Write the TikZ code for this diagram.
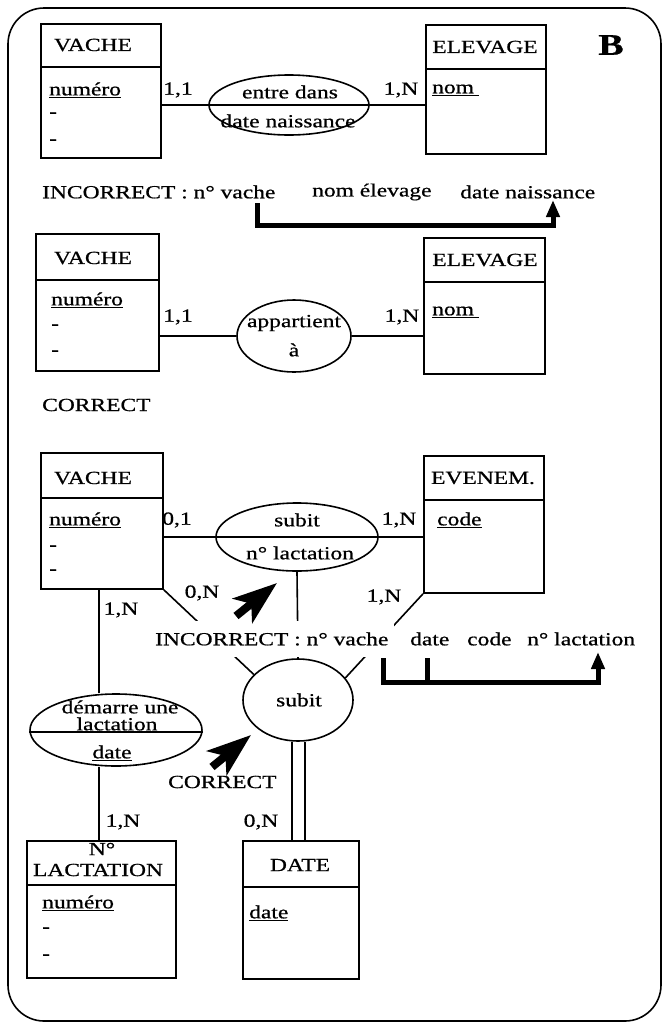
\documentclass[tikz,border=0pt]{standalone}
\usepackage{fontspec}
\setmainfont{Liberation Serif}[FakeStretch=1.27,FakeBold=0.7]
\usetikzlibrary{shapes.geometric,arrows.meta}

\begin{document}
\begin{tikzpicture}[x=1pt,y=-1pt,
    ent/.style={draw,line width=1.8pt,inner sep=0pt,anchor=north west},
    rel/.style={draw,ellipse,line width=1.6pt,inner sep=0pt},
    conn/.style={line width=1.6pt},
    txt/.style={inner sep=0pt,font=\fontsize{18.5}{19}\selectfont},
    mask/.style={txt,fill=white,inner xsep=6pt,inner ysep=11pt,anchor=west},
    fat/.style={line width=5pt,-{Triangle[width=13pt,length=17pt]}},
    pointer/.style={line width=8pt,-{Stealth[length=44pt,width=31pt,inset=11pt]}}]
  \useasboundingbox (0,0) rectangle (665,1028);
  \draw[line width=1.6pt,rounded corners=36pt] (8,8) rectangle (661,1021); %cadre

  % --- 1 : entre dans (incorrect)
  \node[ent,minimum width=120pt,minimum height=134pt] (v1) at (40,23) {};
  \node[ent,minimum width=120pt,minimum height=129pt] (e1) at (425,24) {};
  \node[rel,minimum width=160pt,minimum height=60pt] (r1) at (289,105) {};
  \draw[conn] ([yshift=-44pt]v1.north west) -- ([yshift=-44pt]v1.north east);
  \draw[conn] ([yshift=-45pt]e1.north west) -- ([yshift=-45pt]e1.north east);
  \draw[conn] (v1.east |- r1) -- (e1.west |- r1); %traverse l'ellipse
  \node[txt] (v1t) at (93,45) {VACHE};
  \node[txt,anchor=west] (v1a) at (49,90) {\underline{numéro}};
  \node[txt,anchor=west] (v1b) at (49,115) {-};
  \node[txt,anchor=west] (v1c) at (49,142) {-};
  \node[txt] (e1t) at (485,47) {ELEVAGE};
  \node[txt,anchor=west] (e1a) at (432,90) {\underline{nom\hspace{5pt}}};
  \node[txt] (r1a) at (290,92) {entre dans};
  \node[txt] (r1b) at (288,121) {date naissance};
  \node[txt] (c1) at (178,90) {1,1};
  \node[txt] (c2) at (401,90) {1,N};
  \node[inner sep=0pt,font=\fontsize{30}{30}\selectfont\bfseries] (lb) at (611,45) {B};
  \node[txt,anchor=west] (i1a) at (42,192) {INCORRECT : n° vache};
  \node[txt,anchor=west] (i1b) at (312,192) {nom élevage};
  \node[txt,anchor=west] (i1c) at (460,192) {date naissance};
  \coordinate (t1) at (257,203);
  \coordinate (h1) at (553,200);
  \draw[fat] (t1) -- ++(0,22) -| (h1);

  % --- 2 : appartient a (correct)
  \node[ent,minimum width=123pt,minimum height=137pt] (v2) at (35,233) {};
  \node[ent,minimum width=121pt,minimum height=136pt] (e2) at (423,237) {};
  \node[rel,minimum width=114pt,minimum height=72pt] (r2) at (294,336) {};
  \draw[conn] ([yshift=-47pt]v2.north west) -- ([yshift=-47pt]v2.north east);
  \draw[conn] ([yshift=-45pt]e2.north west) -- ([yshift=-45pt]e2.north east);
  \draw[conn] (v2.east |- r2) -- (r2.west);
  \draw[conn] (r2.east) -- (e2.west |- r2);
  \node[txt] (v2t) at (93,258) {VACHE};
  \node[txt,anchor=west] (v2a) at (51,300) {\underline{numéro}};
  \node[txt,anchor=west] (v2b) at (51,327) {-};
  \node[txt,anchor=west] (v2c) at (51,353) {-};
  \node[txt] (e2t) at (485,260) {ELEVAGE};
  \node[txt,anchor=west] (e2a) at (432,312) {\underline{nom\hspace{5pt}}};
  \node[txt] (r2a) at (294,323) {appartient};
  \node[txt] (r2b) at (294,350) {à};
  \node[txt] (c3) at (178,317) {1,1};
  \node[txt] (c4) at (402,317) {1,N};
  \node[txt,anchor=west] (ok1) at (42,405) {CORRECT};

  % --- 3 : subit (incorrect / correct)
  \node[ent,minimum width=122pt,minimum height=136pt] (v3) at (40,452) {};
  \node[ent,minimum width=120pt,minimum height=137pt] (ev) at (423,455) {};
  \node[ent,minimum width=149pt,minimum height=137pt] (la) at (26,840) {};
  \node[ent,minimum width=116pt,minimum height=138pt] (dt) at (242,840) {};
  \node[rel,minimum width=162pt,minimum height=68pt] (r3) at (297,537) {};
  \node[rel,minimum width=110pt,minimum height=82pt] (r4) at (298,700) {};
  \node[rel,minimum width=172pt,minimum height=72pt] (r5) at (116,730) {};
  \draw[conn] ([yshift=-46pt]v3.north west) -- ([yshift=-46pt]v3.north east);
  \draw[conn] ([yshift=-45pt]ev.north west) -- ([yshift=-45pt]ev.north east);
  \draw[conn] ([yshift=-45pt]la.north west) -- ([yshift=-45pt]la.north east);
  \draw[conn] ([yshift=-47pt]dt.north west) -- ([yshift=-47pt]dt.north east);
  \draw[conn] ([yshift=-2pt]r5.west) -- ([yshift=-2pt]r5.east);
  \draw[conn] (v3.east |- r3) -- (ev.west |- r3);
  \draw[conn] (r3.south) -- (r4.north);
  \draw[conn] (v3.south east) -- (r4.150);
  \draw[conn] (ev.south west) -- (r4.25);
  \draw[line width=2pt,double,double distance=11pt] (r4.south) -- (r4.south |- dt.north);
  \draw[conn] (v3.south -| 99,0) -- (r5.north -| 99,0);
  \draw[conn] (r5.south -| 99,0) -- (la.north -| 99,0);
  \node[txt] (v3t) at (93,478) {VACHE};
  \node[txt,anchor=west] (v3a) at (49,520) {\underline{numéro}};
  \node[txt,anchor=west] (v3b) at (49,548) {-};
  \node[txt,anchor=west] (v3c) at (49,572) {-};
  \node[txt] (evt) at (483,478) {EVENEM.};
  \node[txt,anchor=west] (eva) at (437,520) {\underline{code}};
  \node[txt] (r3a) at (297,520) {subit};
  \node[txt] (r3b) at (300,553) {n° lactation};
  \node[txt] (r4a) at (299,700) {subit};
  \node[txt] (r5a) at (120,707) {démarre une};
  \node[txt] (r5b) at (117,724) {lactation};
  \node[txt] (r5c) at (112,753) {\underline{date}};
  \node[txt] (lat) at (102,849) {N°};
  \node[txt] (lau) at (98,870) {LACTATION};
  \node[txt,anchor=west] (laa) at (42,903) {\underline{numéro}};
  \node[txt,anchor=west] (lab) at (42,930) {-};
  \node[txt,anchor=west] (lac) at (42,957) {-};
  \node[txt] (dtt) at (300,865) {DATE};
  \node[txt,anchor=west] (dta) at (249,913) {\underline{date}};
  \node[txt] (c5) at (177,520) {0,1};
  \node[txt] (c6) at (399,520) {1,N};
  \node[txt] (c7) at (202,593) {0,N};
  \node[txt] (c8) at (384,597) {1,N};
  \node[txt] (c9) at (121,610) {1,N};
  \node[txt] (c10) at (123,822) {1,N};
  \node[txt] (c11) at (261,822) {0,N};
  \node[mask] (i2a) at (149,639) {INCORRECT : n° vache}; %cache les traits
  \node[txt,anchor=west] (i2b) at (410,639) {date};
  \node[txt,anchor=west] (i2c) at (467,639) {code};
  \node[txt,anchor=west] (i2d) at (527,639) {n° lactation};
  \coordinate (t2) at (383,658);
  \coordinate (t3) at (427,658);
  \coordinate (h2) at (598,652);
  \draw[fat] (t2) -- ++(0,24) -| (h2);
  \draw[line width=5pt] (t3) -- ++(0,24);
  \node[txt,anchor=west] (ok2) at (168,782) {CORRECT};
  \coordinate (p1a) at (236,616);
  \coordinate (p1b) at (277,583);
  \coordinate (p2a) at (212,767);
  \coordinate (p2b) at (251,735);
  \draw[pointer] (p1a) -- (p1b);
  \draw[pointer] (p2a) -- (p2b);
\end{tikzpicture}
\end{document}
